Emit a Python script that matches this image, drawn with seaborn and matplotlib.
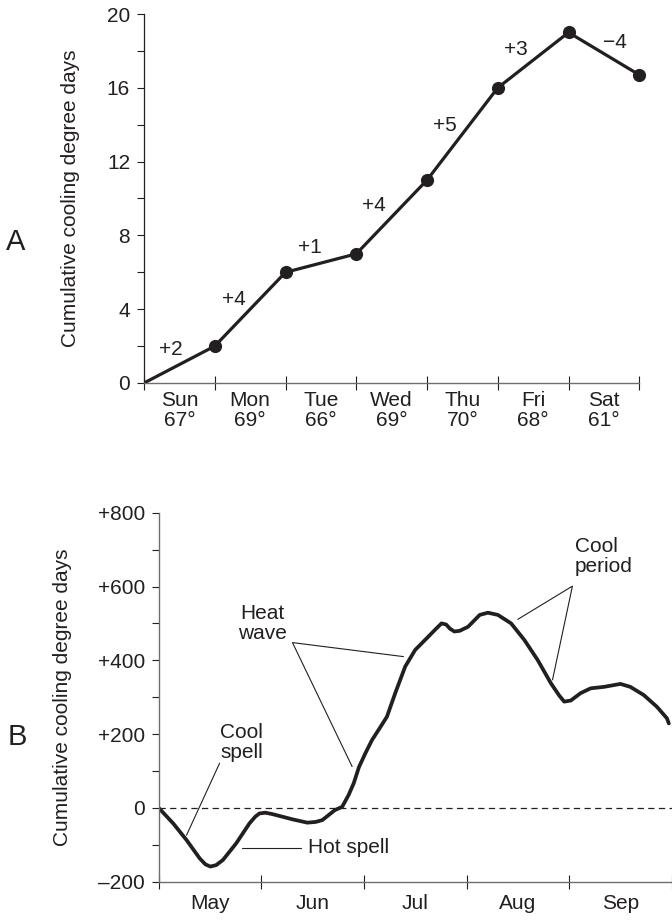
import matplotlib
matplotlib.use("Agg")
import matplotlib.pyplot as plt
import seaborn as sns
import numpy as np
import pandas as pd

# panel A: one week of cooling degree days
days = ["Sun", "Mon", "Tue", "Wed", "Thu", "Fri", "Sat"]
day_temps = ["67°", "69°", "66°", "69°", "70°", "68°", "61°"]
week_cum = [0, 2, 6, 7, 11, 16, 19, 16.7]
week_change = ["+2", "+4", "+1", "+4", "+5", "+3", "\u22124"]
week_ticks = [0, 4, 8, 12, 16, 20]

# panel B: season departure curve (x in months from 1 May)
months = ["May", "Jun", "Jul", "Aug", "Sep"]
season_x = [0, 0.141, 0.271, 0.400, 0.455, 0.503, 0.560, 0.626, 0.755, 0.884, 0.940,
            0.981, 1.040, 1.110, 1.303, 1.448, 1.530, 1.594, 1.716, 1.787, 1.850,
            1.900, 1.950, 2.013, 2.078, 2.150, 2.223, 2.304, 2.401, 2.498, 2.626,
            2.700, 2.755, 2.800, 2.836, 2.880, 2.933, 3.014, 3.127, 3.207, 3.304,
            3.433, 3.562, 3.691, 3.820, 3.900, 3.950, 4.014, 4.110, 4.207, 4.337,
            4.498, 4.594, 4.724, 4.853, 4.950, 4.969]
season_cdd = [0, -42, -87, -137, -153, -159, -155, -141, -96, -42, -24,
              -15, -13, -17, -31, -40, -38, -33, -6, 3, 35,
              67, 110, 148, 184, 215, 247, 311, 383, 428, 464,
              485, 500, 497, 486, 478, 480, 491, 523, 529, 523,
              500, 455, 401, 338, 305, 288, 291, 311, 324, 328,
              336, 328, 306, 274, 243, 229]
season_ticks = [-200, 0, 200, 400, 600, 800]
season_labels = ["\u2013200", "0", "+200", "+400", "+600", "+800"]

ink = "#231f20"
axis_gray = "#6d6e70"
fs = 15

sns.set_theme(style="ticks")
plt.rcParams["font.family"] = ["Liberation Sans", "DejaVu Sans"]
plt.rcParams["text.color"] = ink
plt.rcParams["axes.labelcolor"] = ink
plt.rcParams["xtick.color"] = ink
plt.rcParams["ytick.color"] = ink

fig = plt.figure(figsize=(6.72, 9.21), dpi=100)

# ---------- A ----------
ax1 = fig.add_axes([144 / 672, 1 - 383 / 921, (639.3 - 144) / 672, 369 / 921])
week = pd.DataFrame({"x": np.arange(len(week_cum)), "cdd": week_cum})
sns.lineplot(data=week, x="x", y="cdd", ax=ax1, color=ink, linewidth=2.3,
             solid_joinstyle="round")
sns.scatterplot(data=week.iloc[1:], x="x", y="cdd", ax=ax1, color=ink,
                s=90, edgecolor=ink, linewidth=0, zorder=3, clip_on=False)

# change labels sit near each segment, nudged by a few pixels
nudges = [(-9, 15), (-16, 10), (-11, 16), (-18, 11), (-18, 8), (-17, 11), (11, 11)]
for i, lab in enumerate(week_change):
    mx = (week["x"][i] + week["x"][i + 1]) / 2
    my = (week_cum[i] + week_cum[i + 1]) / 2
    dx, dy = nudges[i]
    ax1.annotate(lab, (mx, my), xytext=(dx * 0.72, dy * 0.72),
                 textcoords="offset points", ha="center", va="center",
                 fontsize=fs, color=ink)

ax1.set_xlim(0, len(days))
ax1.set_ylim(0, 20)
ax1.set_xticks(np.arange(len(days) + 1))
ax1.set_xticklabels([])
ax1.set_xticks(np.arange(len(days)) + 0.5, minor=True)
ax1.set_xticklabels([f"{d}\n{t}" for d, t in zip(days, day_temps)], minor=True,
                    fontsize=fs, linespacing=1.05)
ax1.tick_params(axis="x", which="major", direction="inout", length=10, width=0.8)
ax1.tick_params(axis="x", which="minor", length=0, pad=6)
ax1.set_yticks(week_ticks)
ax1.set_yticklabels([str(v) for v in week_ticks], fontsize=fs)
ax1.set_yticks(np.arange(2, 20, 4), minor=True)
ax1.tick_params(axis="y", which="both", direction="out", length=5, width=0.8, pad=5)
ax1.set_xlabel("")
ax1.set_ylabel("Cumulative cooling degree days", fontsize=fs)
ax1.yaxis.set_label_coords(-0.129, 0.5)
sns.despine(ax=ax1)
ax1.spines["left"].set_color(ink)
ax1.spines["left"].set_linewidth(0.9)
ax1.spines["bottom"].set_color(axis_gray)
ax1.spines["bottom"].set_linewidth(1.0)
fig.text(16 / 672, 1 - 242 / 921, "A", fontsize=21, ha="center", va="center", color=ink)

# ---------- B ----------
ax2 = fig.add_axes([158.7 / 672, 1 - 881.7 / 921, (672 - 158.7) / 672, 369 / 921])
season = pd.DataFrame({"month": season_x, "cdd": season_cdd})
ax2.axhline(0, color=ink, linewidth=0.9, dashes=(5, 3.5))
sns.lineplot(data=season, x="month", y="cdd", ax=ax2, color=ink, linewidth=2.7,
             solid_joinstyle="round", solid_capstyle="round", sort=False)

ax2.set_xlim(0, 4.969)
ax2.set_ylim(-200, 800)
ax2.set_xticks(np.arange(len(months) + 1))
ax2.set_xticklabels([])
ax2.set_xticks(np.arange(len(months)) + 0.5, minor=True)
ax2.set_xticklabels(months, minor=True, fontsize=fs)
ax2.tick_params(axis="x", which="major", direction="inout", length=10, width=0.8)
ax2.tick_params(axis="x", which="minor", length=0, pad=9)
ax2.set_yticks(season_ticks)
ax2.set_yticklabels(season_labels, fontsize=fs)
ax2.set_yticks(np.arange(-100, 800, 200), minor=True)
ax2.tick_params(axis="y", which="both", direction="out", length=5, width=0.8, pad=5)
ax2.set_xlabel("")
ax2.set_ylabel("Cumulative cooling degree days", fontsize=fs)
ax2.yaxis.set_label_coords(-0.1695, 0.5)
sns.despine(ax=ax2)
for side in ["left", "bottom"]:
    ax2.spines[side].set_color(axis_gray)
    ax2.spines[side].set_linewidth(1.0)

lk = dict(color=ink, linewidth=0.8)
# cool spell
ax2.text(0.809, 177, "Cool\nspell", ha="center", va="center", fontsize=fs, linespacing=1.05)
ax2.plot([0.593, 0.271], [121, -74], **lk)
# hot spell
ax2.plot([0.813, 1.384], [-108, -108], **lk)
ax2.text(1.458, -108, "Hot spell", ha="left", va="center", fontsize=fs)
# heat wave
ax2.text(1.013, 500, "Heat\nwave", ha="center", va="center", fontsize=fs, linespacing=1.05)
ax2.plot([2.384, 1.303, 1.884], [410, 448, 112], **lk)
# cool period
ax2.text(4.056, 681, "Cool\nperiod", ha="left", va="center", fontsize=fs, linespacing=1.05)
ax2.plot([3.498, 4.030, 3.836], [511, 601, 347], **lk)

fig.text(17 / 672, 1 - 737 / 921, "B", fontsize=21, ha="center", va="center", color=ink)

fig.savefig("out.png", dpi=100)
